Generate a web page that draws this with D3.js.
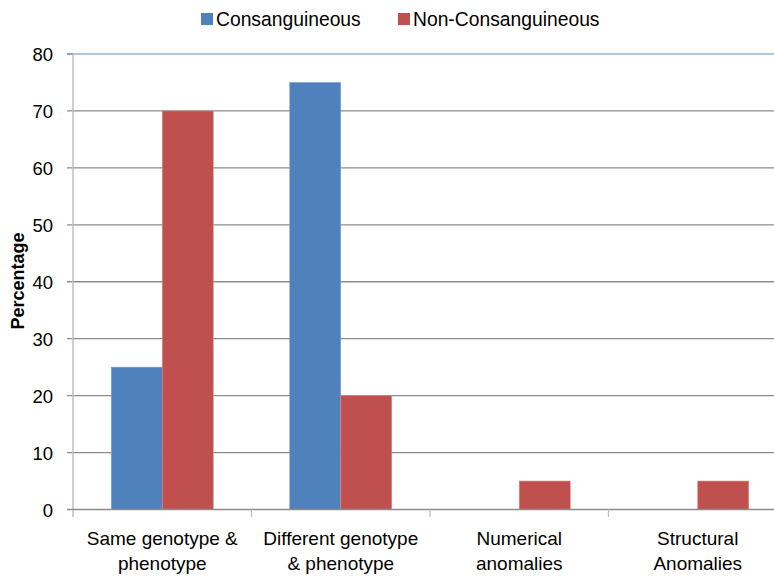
<!DOCTYPE html>
<html><head><meta charset="utf-8">
<script src="https://cdn.jsdelivr.net/npm/d3@7"></script>
<style>body{margin:0;background:#fff}svg{display:block}text{font-family:"Liberation Sans",Arial,sans-serif;fill:#000}</style>
</head><body><svg id="c" width="774" height="577"></svg>
<script>
const categories = [["Same genotype &","phenotype"],["Different genotype","& phenotype"],["Numerical","anomalies"],["Structural","Anomalies"]];
const seriesNames = ["Consanguineous","Non-Consanguineous"];
const consanguineous = [25, 75, 0, 0];
const nonConsanguineous = [70, 20, 5, 5];
const yTicks = [0,10,20,30,40,50,60,70,80];
const colors = ["#4F81BD","#C0504D"];

const svg = d3.select("#c");
const catKeys = categories.map(c => c.join(" "));
const x = d3.scaleBand().domain(catKeys).range([73, 787]).paddingInner(0.4286).paddingOuter(0.2143);
const xs = d3.scaleBand().domain(seriesNames).range([0, x.bandwidth()]);
const y = d3.scaleLinear().domain([0, 80]).range([509.5, 54]);

// gridlines
svg.append("g").selectAll("line").data(yTicks.filter(t => t > 0)).join("line")
  .attr("x1", 67).attr("x2", 774).attr("y1", d => y(d)).attr("y2", d => y(d))
  .attr("stroke", d => d === 80 ? "#95B3D7" : "#8C8C8C").attr("stroke-width", 1.3);
svg.append("line").attr("x1",67).attr("x2",73).attr("y1",y(80)).attr("y2",y(80)).attr("stroke","#8C8C8C").attr("stroke-width",1.3);

// y axis
const yAxis = d3.axisLeft(y).tickValues(yTicks).tickSize(0).tickPadding(20);
const ya = svg.append("g").attr("transform","translate(73,0)").call(yAxis);
ya.select(".domain").remove();
ya.selectAll("text").attr("font-size","18.5px").attr("font-family","Liberation Sans, Arial, sans-serif").attr("fill","#000").attr("dy","0.36em");
svg.append("line").attr("x1",73).attr("x2",73).attr("y1",y(80)).attr("y2",517).attr("stroke","#BFBFBF").attr("stroke-width",1.5);

// bars
const seriesData = [consanguineous, nonConsanguineous];
seriesData.forEach((vals, si) => {
  svg.append("g").selectAll("rect").data(vals.map((v,i)=>({v, k:catKeys[i]}))).join("rect")
    .attr("x", d => x(d.k) + xs(seriesNames[si]))
    .attr("width", xs.bandwidth())
    .attr("y", d => y(d.v))
    .attr("height", d => y(0) - y(d.v))
    .attr("fill", colors[si])
    .attr("stroke", si === 0 ? "#7FA3D1" : "#D98A88").attr("stroke-width", 0.6);
});

// x axis line and ticks
svg.append("line").attr("x1",67).attr("x2",774).attr("y1",y(0)).attr("y2",y(0)).attr("stroke","#8C8C8C").attr("stroke-width",1.3);
const gap = (x.step() - x.bandwidth())/2;
svg.append("g").selectAll("line").data(catKeys.slice(1)).join("line")
  .attr("x1", d => x(d) - gap).attr("x2", d => x(d) - gap)
  .attr("y1", y(0)).attr("y2", 517).attr("stroke","#BFBFBF").attr("stroke-width",1.3);

// category labels
const cl = svg.append("g").selectAll("text").data(categories).join("text")
  .attr("text-anchor","middle").attr("font-size","19px")
  .attr("transform", (d,i) => `translate(${x(catKeys[i]) + x.bandwidth()/2},0)`);
cl.selectAll("tspan").data(d => d).join("tspan")
  .attr("x", 0).attr("y", (d,j) => 538 + j*25).attr("dy","0.36em").text(d => d);

// y title
svg.append("text").attr("transform","translate(24,281) rotate(-90)")
  .attr("text-anchor","middle").attr("font-size","18px").attr("font-weight","bold").text("Percentage");

// legend
const legX = [201, 398];
seriesNames.forEach((n, i) => {
  svg.append("rect").attr("x", legX[i]).attr("y", 13).attr("width", 12).attr("height", 12).attr("fill", colors[i]);
  svg.append("text").attr("x", legX[i] + 15).attr("y", 19).attr("dy","0.36em").attr("font-size","19.3px").text(n);
});
</script></body></html>
